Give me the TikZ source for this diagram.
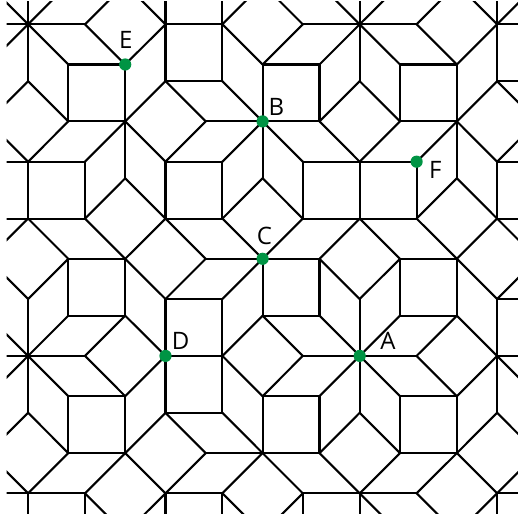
\documentclass[tikz,border=0pt]{standalone}
\usepackage{fontspec}
\setmainfont{Open Sans}
\definecolor{dotgreen}{RGB}{0,148,68}
\begin{document}
\begin{tikzpicture}[x=0.5pt,y=-0.5pt,
  edge/.style={line width=1.05pt,line cap=round,line join=round},
  dot/.style={circle,fill=dotgreen,inner sep=0pt,minimum size=6.1pt},
  lbl/.style={inner sep=0pt,font=\fontsize{12}{13}\selectfont}]
\useasboundingbox (0,0) rectangle (518,520);
\foreach \i/\xv in {a/-28.8,b/-12.1,c/28.1,d/68.3,e/85.0,f/125.2,g/165.5,h/205.7,i/222.4,j/262.6,k/302.8,l/319.5,m/359.7,n/400.0,o/416.6,p/456.9,q/497.1,r/537.3,s/554.0}
  \foreach \j/\yv in {a/-32.6,b/-15.9,c/24.3,d/64.5,e/81.2,f/121.4,g/161.7,h/178.3,i/218.6,j/258.8,k/299.0,l/315.7,m/355.9,n/396.2,o/412.8,p/453.1,q/493.3,r/533.5,s/550.2}
    \coordinate (\i\j) at (\xv,\yv);
\begin{scope}
\clip (6.7,1.7) rectangle (518,513.3);
% horizontal edges
\foreach \u/\v in {ac/cc,cc/ec,gc/ic,kc/mc,mc/oc,qc/sc,
  dd/fd,jd/ld,nd/pd,
  ge/ie,qe/se,
  df/ff,hf/jf,jf/lf,nf/pf,
  ag/cg,cg/eg,gg/ig,kg/mg,mg/og,qg/sg,
  ai/ci,ci/ei,gi/ii,ki/mi,mi/oi,qi/si,
  dj/fj,hj/jj,jj/lj,nj/pj,
  gk/ik,qk/sk,
  dl/fl,jl/ll,nl/pl,
  am/cm,cm/em,gm/im,km/mm,mm/om,qm/sm,
  dn/fn,jn/ln,nn/pn,
  go/io,
  dp/fp,hp/jp,jp/lp,np/pp,
  aq/cq,cq/eq,gq/iq,kq/mq,mq/oq,qq/sq}
  \draw[edge] (\u) -- (\v);
% vertical edges
\foreach \u/\v in {ca/cc,cc/ce,cg/ci,ck/cm,cm/co,cq/cs,
  dd/df,dj/dl,dn/dp,
  eg/ei,eq/es,
  fd/ff,ff/fh,fj/fl,fn/fp,
  ga/gc,gc/ge,gg/gi,gk/gm,gm/go,gq/gs,
  ia/ic,ic/ie,ig/ii,ik/im,im/io,iq/is,
  jd/jf,jf/jh,jj/jl,jn/jp,
  kg/ki,kq/ks,
  ld/lf,lj/ll,ln/lp,
  ma/mc,mc/me,mg/mi,mk/mm,mm/mo,mq/ms,
  nd/nf,nj/nl,nn/np,
  og/oi,
  pd/pf,pf/ph,pj/pl,pn/pp,
  qa/qc,qc/qe,qg/qi,qk/qm,qm/qo,qq/qs}
  \draw[edge] (\u) -- (\v);
% diagonal edges
\foreach \u/\v in {bb/cc,db/cc,cc/bd,cc/dd,fb/ec,ec/fd,fb/gc,gc/fd,jb/ic,ic/jd,jb/kc,kc/jd,
  lb/mc,nb/mc,mc/ld,mc/nd,pb/oc,oc/pd,pb/qc,rb/qc,qc/pd,
  ce/bf,ce/df,ge/ff,ge/hf,ie/jf,me/lf,me/nf,qe/pf,qe/rf,
  df/cg,ff/eg,ff/gg,hf/gg,jf/ig,jf/kg,lf/mg,nf/mg,pf/og,pf/qg,bf/cg,rf/qg,
  fh/ei,fh/gi,jh/ii,jh/ki,ph/oi,ph/qi,
  ci/bj,ci/dj,ei/fj,gi/fj,gi/hj,ii/jj,ki/jj,mi/lj,mi/nj,oi/pj,qi/pj,qi/rj,
  dj/ck,fj/gk,hj/gk,jj/ik,lj/mk,nj/mk,pj/qk,bj/ck,rj/qk,
  dl/cm,fl/em,fl/gm,jl/im,jl/km,ll/mm,nl/mm,pl/om,pl/qm,
  bl/cm,cm/bn,cm/dn,em/fn,gm/fn,im/jn,km/jn,mm/ln,mm/nn,om/pn,qm/pn,qm/rn,
  co/bp,co/dp,go/fp,go/hp,io/jp,mo/lp,mo/np,qo/pp,qo/rp,
  dp/cq,fp/eq,fp/gq,hp/gq,jp/iq,jp/kq,lp/mq,np/mq,pp/oq,pp/qq,bp/cq,rp/qq,
  eq/fr,gq/fr,iq/jr,kq/jr,mq/nr,oq/pr,qq/pr}
  \draw[edge] (\u) -- (\v);
\end{scope}
% marked points
\node[dot] (dotA) at (mm) {};
\node[dot] (dotB) at (jf) {};
\node[dot] (dotC) at (jj) {};
\node[dot] (dotD) at (gm) {};
\node[dot] (dotE) at (fd) {};
\node[dot] (dotF) at (og) {};
\node[lbl] (labA) at (388,341.3) {A};
\node[lbl] (labB) at (276.3,106.7) {B};
\node[lbl] (labC) at (264.5,236) {C};
\node[lbl] (labD) at (180.5,341.3) {D};
\node[lbl] (labE) at (125.8,40) {E};
\node[lbl] (labF) at (435.2,170) {F};
\end{tikzpicture}
\end{document}
